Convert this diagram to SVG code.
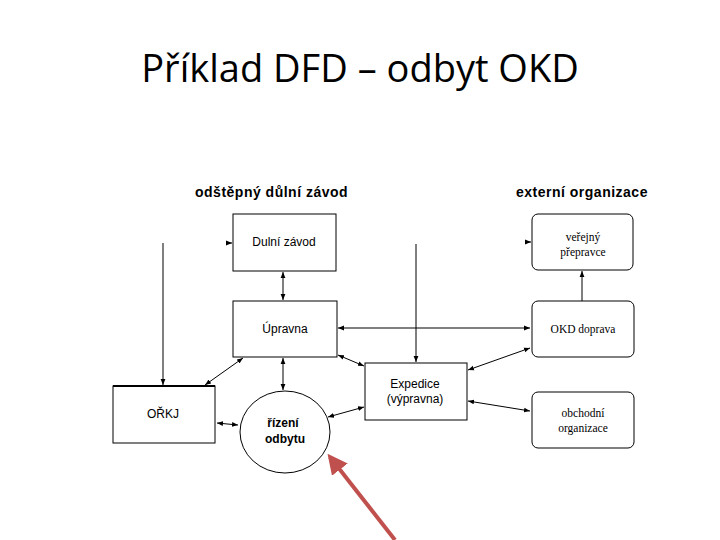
<svg xmlns="http://www.w3.org/2000/svg" width="720" height="540" viewBox="0 0 720 540">
<style>
.box{fill:#fff;stroke:#000;stroke-width:1}
.ln{fill:none;stroke:#000;stroke-width:1}
.t{font-family:"Liberation Sans",Arial,sans-serif;font-size:12px;fill:#000;text-anchor:middle}
.s{font-family:"Liberation Serif","Times New Roman",serif;font-size:11.5px;fill:#000;text-anchor:middle}
.h{font-family:"Liberation Sans",Arial,sans-serif;font-size:14px;font-weight:bold;letter-spacing:0.5px;fill:#000}
.b{font-family:"Liberation Sans",Arial,sans-serif;font-size:12px;font-weight:bold;fill:#000;text-anchor:middle}
</style>
<defs>
<marker id="a" viewBox="0 0 10 10" refX="10" refY="5" markerWidth="6" markerHeight="6" orient="auto-start-reverse" markerUnits="userSpaceOnUse">
<path d="M0,1 L10,5 L0,9 Z" fill="#000"/>
</marker>
<marker id="r" viewBox="0 0 10 10" refX="8" refY="5" markerWidth="5" markerHeight="5" orient="auto">
<path d="M0,0 L10,5 L0,10 Z" fill="#c0504d"/>
</marker>
</defs>
<rect width="720" height="540" fill="#fff"/>
<text x="360" y="82" font-family="'Open Sans','Liberation Sans',sans-serif" font-size="38" text-anchor="middle" fill="#000">Příklad DFD – odbyt OKD</text>
<text class="h" x="195" y="197">odštěpný důlní závod</text>
<text class="h" x="516" y="197">externí organizace</text>
<g id="connectors">
<line class="ln" x1="226" y1="243" x2="232" y2="243" marker-end="url(#a)"/>
<line class="ln" x1="526" y1="242" x2="531" y2="242" marker-end="url(#a)"/>
<line class="ln" x1="163" y1="243" x2="163" y2="385" marker-end="url(#a)"/>
<line class="ln" x1="416" y1="244" x2="416" y2="362" marker-end="url(#a)"/>
<line class="ln" x1="283" y1="272" x2="283" y2="300" marker-start="url(#a)" marker-end="url(#a)"/>
<line class="ln" x1="582" y1="301" x2="582" y2="271" marker-end="url(#a)"/>
<line class="ln" x1="243" y1="358" x2="205" y2="385" marker-start="url(#a)" marker-end="url(#a)"/>
<line class="ln" x1="283" y1="358" x2="283" y2="390" marker-start="url(#a)" marker-end="url(#a)"/>
<line class="ln" x1="217" y1="423" x2="238" y2="425" marker-start="url(#a)" marker-end="url(#a)"/>
<line class="ln" x1="338" y1="328" x2="530" y2="328" marker-start="url(#a)" marker-end="url(#a)"/>
<line class="ln" x1="338" y1="355" x2="364" y2="366" marker-start="url(#a)" marker-end="url(#a)"/>
<line class="ln" x1="328" y1="417" x2="364" y2="407" marker-start="url(#a)" marker-end="url(#a)"/>
<line class="ln" x1="468" y1="370" x2="530" y2="348" marker-start="url(#a)" marker-end="url(#a)"/>
<line class="ln" x1="468" y1="401" x2="530" y2="411" marker-start="url(#a)" marker-end="url(#a)"/>
<line x1="395" y1="540" x2="330" y2="457" stroke="#c0504d" stroke-width="4" marker-end="url(#r)"/>
</g>
<g id="dulni-zavod"><rect class="box" x="233" y="214" width="103" height="57"/><text class="t" x="284" y="246">Dulní závod</text></g>
<g id="upravna"><rect class="box" x="233" y="301" width="104" height="56"/><text class="t" x="285" y="333">Úpravna</text></g>
<g id="orkj"><rect class="box" x="113" y="386" width="102" height="57"/><line x1="113" y1="386" x2="215" y2="386" stroke="#000" stroke-width="2"/><text class="t" x="163" y="418">OŘKJ</text></g>
<g id="rizeni-odbytu"><ellipse cx="285" cy="432" rx="45" ry="41" class="box"/><text class="b" x="283" y="427">řízení</text><text class="b" x="285" y="443">odbytu</text></g>
<g id="expedice"><rect class="box" x="365" y="363" width="102" height="57"/><text class="t" x="415" y="388">Expedice</text><text class="t" x="415" y="403">(výpravna)</text></g>
<g id="verejny-prepravce"><rect class="box" x="532" y="214" width="101" height="56" rx="6"/><text class="s" x="583" y="241">veřejný</text><text class="s" x="583" y="256">přepravce</text></g>
<g id="okd-doprava"><rect class="box" x="532" y="301" width="102" height="56" rx="6"/><text class="s" x="583" y="333">OKD doprava</text></g>
<g id="obchodni-organizace"><rect class="box" x="532" y="392" width="102" height="56" rx="6"/><text class="s" x="583" y="417">obchodní</text><text class="s" x="583" y="432">organizace</text></g>
</svg>
